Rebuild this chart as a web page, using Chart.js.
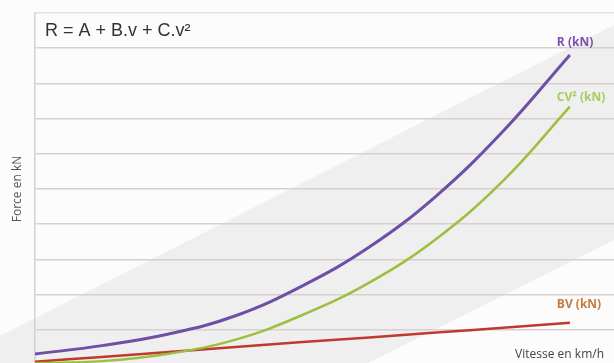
<!DOCTYPE html>
<html>
<head>
<meta charset="utf-8">
<script src="https://cdn.jsdelivr.net/npm/chart.js@4.4.1/dist/chart.umd.min.js"></script>
<style>
  html, body { margin: 0; padding: 0; overflow: hidden; background: #fcfcfc; }
  canvas { display: block; }
</style>
</head>
<body>
<canvas id="resistance" width="614" height="368"></canvas>
<script>
// vitesse (km/h) and forces
var vitesse = [0, 20, 40, 60, 80, 100, 120, 140, 160];
var forceR = [0.31, 0.55, 0.88, 1.40, 2.25, 3.35, 4.80, 6.64, 8.81];
var forceCV2 = [0.05, 0.11, 0.32, 0.72, 1.42, 2.34, 3.58, 5.23, 7.34];
var forceBV = [0.09, 0.23, 0.37, 0.51, 0.65, 0.78, 0.92, 1.06, 1.20];
var seriesLabels = ['R (kN)', 'CV\u00b2 (kN)', 'BV (kN)'];
var formula = 'R = A + B.v + C.v\u00b2';

var canvas = document.getElementById('resistance');
var ctx = canvas.getContext('2d');

function pts(ys) {
    return vitesse.map((v, i) => ({x: v, y: ys[i]}));
}

// background: white corners and grey diagonal stripe
var bandPlugin = {
    id: 'band',
    beforeDraw(chart) {
        var c = chart.ctx, w = chart.width, h = chart.height;
        c.save();
        c.fillStyle = '#fcfcfc';
        c.fillRect(0, 0, w, h);
        c.fillStyle = '#efefef';
        c.beginPath();
        c.moveTo(0, h * 0.913);
        c.lineTo(w, h * 0.068);
        c.lineTo(w, h * 0.652);
        c.lineTo(w * 0.583, h);
        c.lineTo(0, h);
        c.closePath();
        c.fill();
        c.restore();
    }
};

var textPlugin = {
    id: 'texts',
    afterDatasetsDraw(chart) {
        var c = chart.ctx, area = chart.chartArea;
        c.save();
        c.fillStyle = '#333';
        c.font = '18px "Liberation Sans", Arial, sans-serif';
        c.textBaseline = 'middle';
        c.textAlign = 'left';
        c.fillText(formula, area.left + 10, area.top + 18);

        c.fillStyle = '#444';
        c.font = '12px "Open Sans", sans-serif';
        c.textAlign = 'right';
        c.fillText('Vitesse en km/h', chart.width - 10, chart.height - 13);

        chart.data.datasets.forEach((ds, i) => {
            var meta = chart.getDatasetMeta(i);
            var last = meta.data[meta.data.length - 1];
            c.fillStyle = ds.labelColor;
            c.font = 'bold 12px "Open Sans", sans-serif';
            c.textAlign = 'left';
            c.fillText(ds.label, last.x - 13, last.y + ds.labelDy);
        });
        c.restore();
    }
};

var chart = new Chart(ctx, {
    type: 'line',
    data: {
        datasets: [{
            label: seriesLabels[0],
            data: pts(forceR),
            borderColor: '#6e4ea6',
            borderWidth: 3,
            labelColor: '#7a50b0',
            labelDy: -12
        }, {
            label: seriesLabels[1],
            data: pts(forceCV2),
            borderColor: '#9cc03e',
            borderWidth: 2.5,
            labelColor: '#a9cc5c',
            labelDy: -9
        }, {
            label: seriesLabels[2],
            data: pts(forceBV),
            borderColor: '#c0392e',
            borderWidth: 2.5,
            labelColor: '#c47a3e',
            labelDy: -18
        }]
    },
    options: {
        responsive: false,
        animation: false,
        layout: { padding: { top: 13, bottom: 3, right: 0, left: 0 } },
        elements: {
            point: { radius: 0 },
            line: { tension: 0.4, fill: false }
        },
        plugins: {
            legend: { display: false },
            tooltip: { enabled: false }
        },
        scales: {
            x: {
                type: 'linear',
                min: 0,
                max: 173.2,
                display: false
            },
            y: {
                min: 0,
                max: 10,
                ticks: { display: false, stepSize: 1 },
                grid: {
                    color: c => c.tick.value == 10 ? '#e6e0e0' : '#d8cfcf',
                    lineWidth: 1.5,
                    drawTicks: false
                },
                border: { color: '#d8cfcf', width: 1.5 },
                title: {
                    display: true,
                    text: 'Force en kN',
                    color: '#555',
                    font: { size: 12, family: '"Open Sans", sans-serif' },
                    padding: { top: 10, bottom: 0 }
                },
                afterFit: function(scale) { scale.width = 35; }
            }
        }
    },
    plugins: [bandPlugin, textPlugin]
});
</script>
</body>
</html>
